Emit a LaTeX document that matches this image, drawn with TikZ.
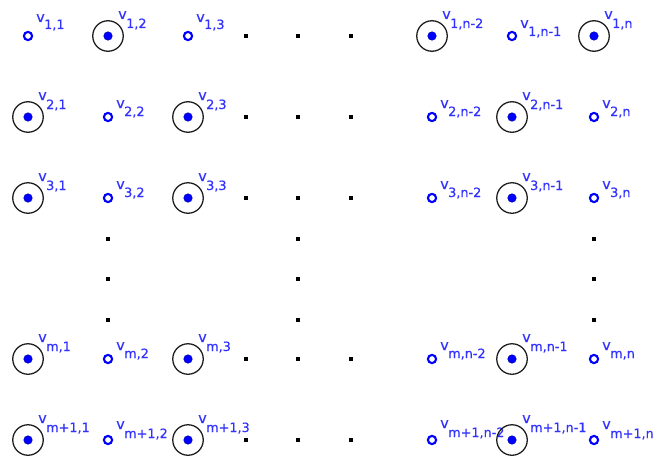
\documentclass[tikz,border=0pt]{standalone}
\usepackage{fontspec}
\newfontfamily\lblfont[FakeBold=0.4]{DejaVu Sans}
\definecolor{lblblue}{RGB}{50,50,255}
\definecolor{ptblue}{RGB}{0,0,255}
\definecolor{ringgray}{RGB}{30,30,30}
% closed point: name, x, y, subscript
\newcommand\closedpt[4]{%
  \node[ring] (#1r) at (#2,#3) {};
  \node[fillpt] (#1) at (#2,#3) {};
  \node[vlab] (#1v) at (#2+10,#3-17) {v};
  \node[slab] (#1s) at (#2+18,#3-8) {#4};
}
% open point: name, x, y, subscript, v raise, subscript raise
\newcommand\openpt[6]{%
  \node[openpt] (#1) at (#2,#3) {};
  \node[vlab] (#1v) at (#2+8,#3-#5) {v};
  \node[slab] (#1s) at (#2+16,#3-#6) {#4};
}
\begin{document}
\begin{tikzpicture}[x=1pt,y=-1pt,
  ring/.style={circle,draw=ringgray,line width=1.3pt,minimum size=30.5pt,inner sep=0pt},
  fillpt/.style={circle,fill=ptblue,draw=ptblue!70!black,line width=0.5pt,minimum size=8.5pt,inner sep=0pt},
  openpt/.style={circle,draw=ptblue,line width=2.1pt,minimum size=8.2pt,inner sep=0pt},
  smalldot/.style={rectangle,fill=black,minimum size=3.2pt,inner sep=0pt},
  vlab/.style={anchor=base west,inner sep=0pt,text=lblblue,font=\lblfont\fontsize{14.5}{14.5}\selectfont},
  slab/.style={anchor=base west,inner sep=0pt,text=lblblue,font=\lblfont\fontsize{12.8}{12.8}\selectfont}]
\useasboundingbox (0,0) rectangle (660,460);
% row 1
\openpt{p11}{28}{36}{1,1}{14}{7}
\closedpt{p12}{108}{36}{1,2}
\openpt{p13}{188}{36}{1,3}{14}{7}
\closedpt{p1a}{432}{36}{1,n-2}
\openpt{p1b}{512}{36}{1,n-1}{8}{0}
\closedpt{p1c}{594}{36}{1,n}
% row 2
\closedpt{p21}{28}{117}{2,1}
\openpt{p22}{108}{117}{2,2}{9}{1}
\closedpt{p23}{188}{117}{2,3}
\openpt{p2a}{432}{117}{2,n-2}{9}{1}
\closedpt{p2b}{512}{117}{2,n-1}
\openpt{p2c}{594}{117}{2,n}{9}{1}
% row 3
\closedpt{p31}{28}{198}{3,1}
\openpt{p32}{108}{198}{3,2}{9}{1}
\closedpt{p33}{188}{198}{3,3}
\openpt{p3a}{432}{198}{3,n-2}{9}{1}
\closedpt{p3b}{512}{198}{3,n-1}
\openpt{p3c}{594}{198}{3,n}{9}{1}
% row m
\closedpt{pm1}{28}{359}{m,1}
\openpt{pm2}{108}{359}{m,2}{9}{1}
\closedpt{pm3}{188}{359}{m,3}
\openpt{pma}{432}{359}{m,n-2}{9}{1}
\closedpt{pmb}{512}{359}{m,n-1}
\openpt{pmc}{594}{359}{m,n}{9}{1}
% row m+1
\closedpt{pn1}{28}{440}{m+1,1}
\openpt{pn2}{108}{440}{m+1,2}{11}{2}
\closedpt{pn3}{188}{440}{m+1,3}
\openpt{pna}{432}{440}{m+1,n-2}{12}{3}
\closedpt{pnb}{512}{440}{m+1,n-1}
\openpt{pnc}{594}{440}{m+1,n}{11}{2}
% horizontal dots
\foreach \r/\y in {1/36,2/117,3/198,m/359,n/440}{
  \foreach \c/\x in {a/246,b/298,c/351}{
    \node[smalldot] (h\r\c) at (\x,\y) {};
  }
}
% vertical dots
\foreach \c/\x in {a/108,b/298,c/594}{
  \foreach \k/\y in {1/239,2/279,3/320}{
    \node[smalldot] (v\c\k) at (\x,\y) {};
  }
}
\end{tikzpicture}
\end{document}
